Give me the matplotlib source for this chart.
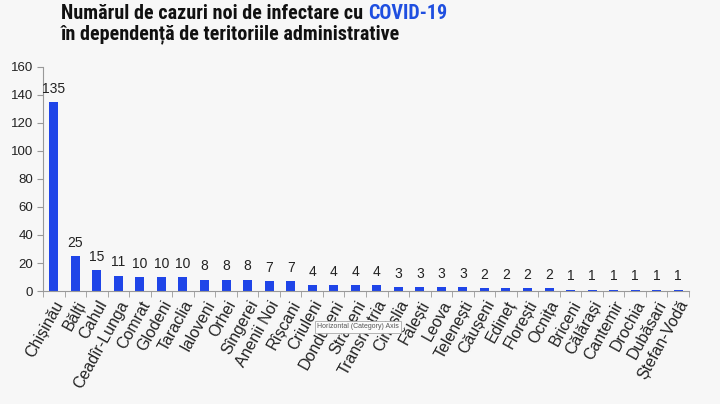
import matplotlib
matplotlib.use("Agg")
import matplotlib.pyplot as plt

categories = ["Chișinău", "Bălți", "Cahul", "Ceadîr-Lunga", "Comrat", "Glodeni", "Taraclia",
              "Ialoveni", "Orhei", "Sîngerei", "Anenii Noi", "Rîșcani", "Criuleni", "Dondușeni",
              "Strășeni", "Transnistria", "Cimișlia", "Fălești", "Leova", "Telenești", "Căușeni",
              "Edineț", "Florești", "Ocnița", "Briceni", "Călărași", "Cantemir", "Drochia",
              "Dubăsari", "Ștefan-Vodă"]
values = [135, 25, 15, 11, 10, 10, 10, 8, 8, 8, 7, 7, 4, 4, 4, 4, 3, 3, 3, 3, 2, 2, 2, 2,
          1, 1, 1, 1, 1, 1]
yticks = [0, 20, 40, 60, 80, 100, 120, 140, 160]

bg = "#f7f7f7"
bar_color = "#1f45e8"
title_font = ["Roboto Condensed", "Liberation Sans", "DejaVu Sans"]
plt.rcParams['font.family'] = ['Liberation Sans', 'DejaVu Sans']

fig = plt.figure(figsize=(7.2, 4.04), dpi=100, facecolor=bg)
ax = fig.add_axes([43/720, 1-291/404, (689-43)/720, (291-67)/404])
ax.set_facecolor(bg)
x = list(range(len(categories)))
ax.bar(x, values, width=0.42, color=bar_color, zorder=2)
for xi, v in zip(x, values):
    ax.text(xi, v + 4.5, str(v), ha="center", va="bottom", fontsize=10, color="#222222")
ax.set_xlim(-0.5, len(categories) - 0.5)
ax.set_ylim(0, 160)
ax.set_yticks(yticks)
ax.set_yticklabels([str(t) for t in yticks], fontsize=9.5, color="#222222")
ax.set_xticks(x)
ax.set_xticklabels(categories, rotation=61, ha="right", rotation_mode="anchor",
                   fontsize=11.5, color="#222222")
ax.tick_params(axis="x", length=0, pad=5)
ax.set_xticks([i + 0.5 for i in range(-1, len(categories))], minor=True)
ax.tick_params(axis="x", which="minor", length=4, color="#999999", direction="out")
ax.tick_params(axis="y", length=4, color="#999999", direction="out", pad=3)
for s in ["top", "right"]:
    ax.spines[s].set_visible(False)
ax.spines["left"].set_color("#999999")
ax.spines["bottom"].set_color("#999999")

# title
fig.canvas.draw()
r = fig.canvas.get_renderer()
t1 = fig.text(61/720, 1-19/404, "Numărul de cazuri noi de infectare cu ", fontsize=14.5,
              fontweight="bold", family=title_font, color="#111111", va="baseline")
bb = t1.get_window_extent(r)
fig.text(bb.x1/fig.bbox.width, 1-19/404, "COVID-19", fontsize=14.5, fontweight="bold",
         family=title_font, color="#1f4fe0", va="baseline")
fig.text(61/720, 1-39/404, "în dependență de teritoriile administrative", fontsize=14.5,
         fontweight="bold", family=title_font, color="#111111", va="baseline")

# tooltip
fig.text(317/720, 1-327/404, "Horizontal (Category) Axis", fontsize=5, color="#555555",
         va="center", zorder=5,
         bbox=dict(boxstyle="square,pad=0.35", fc="#fbfbfb", ec="#aaaaaa", lw=0.6))

fig.savefig("out.png", dpi=100, facecolor=bg)
